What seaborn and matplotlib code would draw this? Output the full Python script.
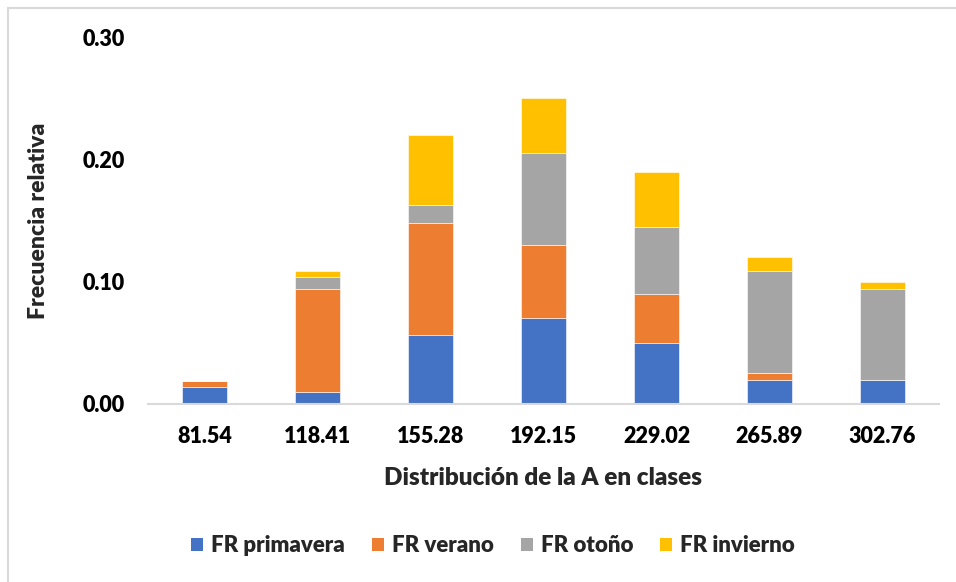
import matplotlib
matplotlib.use("Agg")
import matplotlib.pyplot as plt
from matplotlib.patches import Rectangle, Patch
import seaborn as sns
import pandas as pd

# Class marks and relative frequencies per season
clases = ["81.54", "118.41", "155.28", "192.15", "229.02", "265.89", "302.76"]
fr_primavera = [0.014, 0.010, 0.056, 0.070, 0.050, 0.020, 0.020]
fr_verano = [0.005, 0.084, 0.092, 0.060, 0.040, 0.005, 0.000]
fr_otono = [0.000, 0.010, 0.015, 0.075, 0.055, 0.084, 0.074]
fr_invierno = [0.000, 0.005, 0.057, 0.045, 0.045, 0.011, 0.006]

series_names = ["FR primavera", "FR verano", "FR otoño", "FR invierno"]
series_vals = [fr_primavera, fr_verano, fr_otono, fr_invierno]
colors = ["#4472C4", "#ED7D31", "#A5A5A5", "#FFC000"]
y_ticks = [0.0, 0.10, 0.20, 0.30]

sns.set_theme(style="white")
plt.rcParams["font.family"] = ["Lato", "DejaVu Sans"]
W = "heavy"

fig = plt.figure(figsize=(9.56, 5.82), dpi=100)
ax = fig.add_axes([148 / 956, 1 - 404 / 582, 791 / 956, 367 / 582])

df = pd.DataFrame({"clase": clases})
bottom = [0.0] * len(clases)
for name, vals, col in zip(series_names, series_vals, colors):
    df["valor"] = vals
    sns.barplot(data=df, x="clase", y="valor", order=clases, bottom=bottom,
                color=col, width=0.4, edgecolor="white", linewidth=0.4,
                saturation=1, ax=ax)
    bottom = [b + v for b, v in zip(bottom, vals)]

ax.set_ylim(0, 0.30)
ax.set_xlim(-0.5, len(clases) - 0.5)
ax.set_yticks(y_ticks)
ax.set_yticklabels([f"{t:.2f}" for t in y_ticks])
ax.tick_params(axis="both", length=0, labelsize=15.5, colors="black")
ax.tick_params(axis="x", pad=16)
ax.tick_params(axis="y", pad=17)
for lab in ax.get_xticklabels() + ax.get_yticklabels():
    lab.set_fontweight(W)

for s in ["top", "right", "left"]:
    ax.spines[s].set_visible(False)
ax.spines["bottom"].set_color("#D9D9D9")
ax.spines["bottom"].set_linewidth(1.5)

ax.set_xlabel("Distribución de la A en clases", fontsize=17.5, fontweight=W,
              labelpad=14)
ax.set_ylabel("Frecuencia relativa", fontsize=16.5, fontweight=W, labelpad=24)

handles = [Patch(facecolor=c, edgecolor="none") for c in colors]
fig.legend(handles, series_names, loc="center", bbox_to_anchor=(493 / 956, 1 - 546 / 582),
           ncol=4, frameon=False, handlelength=0.55, handleheight=0.55,
           handletextpad=0.36, columnspacing=1.2, prop={"weight": W, "size": 16})

# Chart-area frame
fig.add_artist(Rectangle((8 / 956, -0.1), 1.2, 1.1 - 8 / 582, transform=fig.transFigure,
                         fill=False, edgecolor="#D9D9D9", linewidth=1.5))

fig.savefig("out.png", dpi=100, facecolor="white")
